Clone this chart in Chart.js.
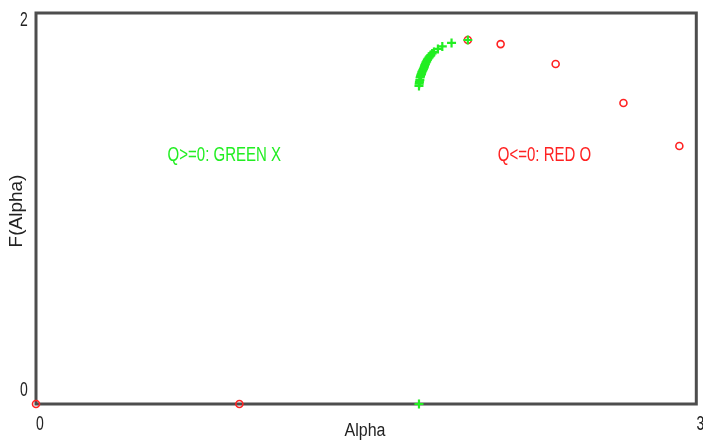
<!DOCTYPE html>
<html lang="en">
<head>
  <meta charset="UTF-8" />
  <title>F(Alpha)</title>
  <script src="https://cdn.jsdelivr.net/npm/chart.js"></script>
  <style>
    html, body { margin: 0; padding: 0; background: #fff; }
    canvas { display: block; }
  </style>
</head>
<body>
  <canvas id="chart" width="703" height="443"></canvas>

  <script>
    // points
    const redX = [0, 0.924, 1.962, 2.111, 2.361, 2.669, 2.923];
    const redY = [0, 0, 1.862, 1.841, 1.739, 1.540, 1.320];

    const greenX = [1.740, 1.962, 1.888, 1.846, 1.826, 1.808, 1.800, 1.794, 1.789, 1.785, 1.781, 1.778,
                    1.775, 1.772, 1.769, 1.767, 1.765, 1.763, 1.760, 1.758, 1.755, 1.753,
                    1.751, 1.749, 1.747, 1.745, 1.744, 1.742, 1.741, 1.740];
    const greenY = [0, 1.862, 1.847, 1.829, 1.816, 1.801, 1.793, 1.785, 1.778, 1.772, 1.766, 1.760,
                    1.753, 1.747, 1.740, 1.734, 1.727, 1.721, 1.714, 1.708, 1.702, 1.696,
                    1.689, 1.683, 1.676, 1.670, 1.657, 1.648, 1.638, 1.627];

    const xTicks = [0, 3];
    const yTicks = [0, 2];

    const notes = [
      { text: "Q>=0: GREEN X", x: 0.598, y: 1.274, color: "#22ee22" },
      { text: "Q<=0: RED O", x: 2.098, y: 1.274, color: "#ff2222" }
    ];

    const toPoints = (xs, ys) => xs.map((x, i) => ({ x: x, y: ys[i] }));

    // text in the picture is tall and narrow, stretch it a bit
    function stretchedText(ctx, txt, x, y, font, color, align, sy) {
      ctx.save();
      ctx.font = font;
      ctx.fillStyle = color;
      ctx.textAlign = align;
      ctx.textBaseline = "middle";
      ctx.translate(x, y);
      ctx.scale(1, sy);
      ctx.fillText(txt, 0, 0);
      ctx.restore();
    }

    const framePlugin = {
      id: "frame",
      beforeDatasetsDraw(chart) {
        const { ctx, chartArea: a } = chart;
        ctx.save();
        ctx.strokeStyle = "#4d4d4d";
        ctx.lineWidth = 3;
        ctx.strokeRect(a.left, a.top, a.right - a.left, a.bottom - a.top);
        ctx.restore();
      },
      afterDraw(chart) {
        const { ctx, chartArea: a } = chart;
        const xs = chart.scales.x, ys = chart.scales.y;
        const tickFont = "14px 'Liberation Sans', Arial, sans-serif";

        // x tick labels
        xTicks.forEach(v => {
          stretchedText(ctx, String(v), xs.getPixelForValue(v) + 4, a.bottom + 20, tickFont, "#222", "center", 1.5);
        });
        // y tick labels (pulled inward like the original)
        stretchedText(ctx, String(yTicks[1]), a.left - 12, ys.getPixelForValue(yTicks[1]) + 7, tickFont, "#222", "center", 1.5);
        stretchedText(ctx, String(yTicks[0]), a.left - 12, ys.getPixelForValue(yTicks[0]) - 14, tickFont, "#222", "center", 1.5);

        // axis titles
        stretchedText(ctx, "Alpha", 365, a.bottom + 27, "16px 'Liberation Sans', Arial, sans-serif", "#222", "center", 1.15);
        ctx.save();
        ctx.translate(17, 211);
        ctx.rotate(-Math.PI / 2);
        ctx.font = "19px 'Liberation Sans', Arial, sans-serif";
        ctx.fillStyle = "#222";
        ctx.textAlign = "center";
        ctx.textBaseline = "middle";
        ctx.fillText("F(Alpha)", 0, 0);
        ctx.restore();

        // notes
        notes.forEach(n => {
          stretchedText(ctx, n.text, xs.getPixelForValue(n.x), ys.getPixelForValue(n.y), "15px 'Liberation Sans', Arial, sans-serif", n.color, "left", 1.4);
        });
      }
    };

    new Chart(document.getElementById("chart"), {
      type: "scatter",
      data: {
        datasets: [
          {
            label: "Q>=0",
            data: toPoints(greenX, greenY),
            pointStyle: "cross",
            pointRadius: 4.5,
            pointBorderWidth: 2.2,
            borderColor: "#22ee22",
            backgroundColor: "#22ee22",
            clip: false
          },
          {
            label: "Q<=0",
            data: toPoints(redX, redY),
            pointStyle: "circle",
            pointRadius: 3.5,
            pointBorderWidth: 1.6,
            borderColor: "#ff2222",
            backgroundColor: "rgba(255,255,255,0)",
            clip: false
          }
        ]
      },
      options: {
        responsive: false,
        animation: false,
        layout: { padding: { left: 36, right: 5, top: 13, bottom: 39 } },
        scales: {
          x: { type: "linear", min: 0, max: 3, display: false },
          y: { type: "linear", min: 0, max: 2, display: false }
        },
        plugins: {
          legend: { display: false },
          tooltip: { enabled: false }
        }
      },
      plugins: [framePlugin]
    });
  </script>
</body>
</html>
